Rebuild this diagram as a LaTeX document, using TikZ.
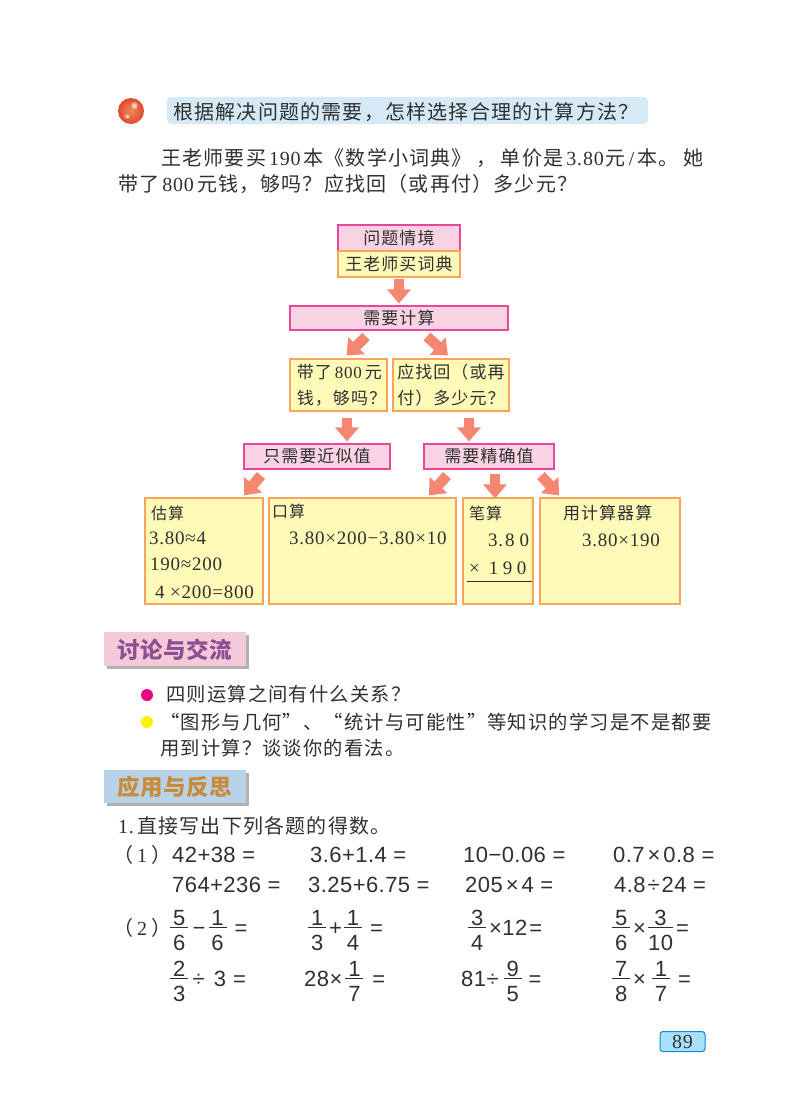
\documentclass[tikz,border=0pt]{standalone}
\usepackage{fontspec}
\setmainfont[LetterSpace=4]{Liberation Serif}
\setsansfont[LetterSpace=2]{Liberation Sans}
\newfontfamily\cjk[LetterSpace=6]{Noto Sans CJK SC}
\newfontfamily\cjkh[LetterSpace=2]{Noto Sans CJK SC}
\usetikzlibrary{arrows.meta,calc}
\newcommand{\zh}[1]{{\cjk #1}}
\newcommand{\fsz}[1]{\fontsize{#1}{#1}\selectfont}
\newcommand{\fr}[3][18pt]{\hbox to #1{\rlap{\hbox to #1{\hss\raisebox{10pt}{#2}\hss}}\rlap{\hbox to #1{\hss\raisebox{-15pt}{#3}\hss}}\rlap{\raisebox{7pt}{\rule{#1}{.7pt}}}\hss}}
\definecolor{pinkfill}{HTML}{F9D3E4}
\definecolor{pinkline}{HTML}{E8479A}
\definecolor{yelfill}{HTML}{FFFAB8}
\definecolor{orgline}{HTML}{F9A45C}
\definecolor{arrowc}{HTML}{F58670}
\definecolor{ink}{HTML}{303030}
\definecolor{ballA}{HTML}{F08A60}
\definecolor{ballB}{HTML}{E0482C}
\definecolor{headP}{HTML}{8D4F90}
\definecolor{headO}{HTML}{C98A3A}
\definecolor{boxP}{HTML}{F4CADB}
\definecolor{boxB}{HTML}{B8D2EA}
\definecolor{pill}{HTML}{D5EAF6}
\tikzset{
  tx/.style={inner sep=0pt,anchor=base west,text=ink,font=\fsz{20}},
  txs/.style={tx,font=\fsz{19}},
  lab/.style={tx,font=\fsz{16}},
  ms/.style={inner sep=0pt,anchor=base west,text=ink,font=\sffamily\fsz{22}},
  pbox/.style={draw=pinkline,fill=pinkfill,line width=1.1pt,inner sep=0pt,text=ink,font=\fsz{17}},
  ybox/.style={draw=orgline,fill=yelfill,line width=1.2pt,inner sep=0pt,text=ink,font=\fsz{17}},
  fat/.style={draw=arrowc,line width=10.5pt,-{Triangle[width=23pt,length=14pt,fill=arrowc]}},
  head/.style={inner sep=0pt,font=\bfseries\fsz{22.5}},
}
\begin{document}
\begin{tikzpicture}[x=1pt,y=-1pt]
\useasboundingbox (0,0) rectangle (800,1114);
% title
\shade[inner color=ballA,outer color=ballB] (131,111) circle (13);
\shade[inner color=white,outer color=ballA!60!ballB] (134,105.5) circle (4);
\shade[inner color=white!70!ballA,outer color=ballA!60!ballB] (127,116) circle (3.2);
\fill[pill,rounded corners=4pt] (167,97) rectangle (648,124);
\node[tx] (title) at (173,119) {\zh{根据解决问题的需要，怎样选择合理的计算方法？}};
\node[tx] (p1) at (161,165) {\zh{王老师要买}\kern3pt 190\kern3pt\zh{本《数学小词典》}\kern5pt\zh{，}\kern4pt\zh{单价是}\kern3pt 3.80\kern2pt\zh{元}\kern3pt/\kern3pt\zh{本。}\kern5pt\zh{她}};
\node[tx] (p2) at (118,191) {\zh{带了}\kern3pt 800\kern3pt\zh{元钱，够吗？应找回（或再付）多少元？}};
% flow
\node[pbox,minimum width=122pt,minimum height=26pt] (qj) at (399,238) {\zh{问题情境}};
\node[ybox,minimum width=122pt,minimum height=26pt] (wl) at (399,264) {\zh{王老师买词典}};
\node[pbox,minimum width=218pt,minimum height=24pt] (xy) at (399,318) {\zh{需要计算}};
\node[ybox,minimum width=97pt,minimum height=52pt,align=left] (dl) at (338.5,385) {\kern6pt\zh{带了}\kern3pt 800\kern3pt\zh{元}\\[9pt]\kern6pt\zh{钱，够吗？}};
\node[ybox,minimum width=116pt,minimum height=52pt,align=left] (yz) at (451,385) {\zh{应找回（或再}\\[9pt]\zh{付）多少元？}};
\node[pbox,minimum width=146pt,minimum height=25pt] (zx) at (317,456.5) {\zh{只需要近似值}};
\node[pbox,minimum width=130pt,minimum height=25pt] (jq) at (489,456.5) {\zh{需要精确值}};
\node[ybox,minimum width=118pt,minimum height=106pt] (gs) at (204,551) {};
\node[ybox,minimum width=187pt,minimum height=106pt] (ks) at (362.5,551) {};
\node[ybox,minimum width=70pt,minimum height=106pt] (bs) at (498,551) {};
\node[ybox,minimum width=140pt,minimum height=106pt] (js) at (610,551) {};
% arrows
\draw[fat] ([yshift=-1pt]wl.south) -- ([yshift=2pt]xy.north);
\draw[fat] ([xshift=-33pt,yshift=-6pt]xy.south) -- ([xshift=8pt,yshift=3pt]dl.north);
\draw[fat] ([xshift=28pt,yshift=-6pt]xy.south) -- ([xshift=-3pt,yshift=3pt]yz.north);
\draw[fat] ([xshift=8.5pt,yshift=-6pt]dl.south) -- ([xshift=30pt,yshift=2pt]zx.north);
\draw[fat] ([xshift=18pt,yshift=-6pt]yz.south) -- ([xshift=-20pt,yshift=2pt]jq.north);
\draw[fat] ([xshift=-56pt,yshift=-6pt]zx.south) -- ([xshift=40pt,yshift=2pt]gs.north);
\draw[fat] ([xshift=-42pt,yshift=-6pt]jq.south) -- ([xshift=66.5pt,yshift=2pt]ks.north);
\draw[fat] ([xshift=6pt,yshift=-4pt]jq.south) -- ([xshift=-3pt,yshift=-1pt]bs.north);
\draw[fat] ([xshift=52pt,yshift=-6pt]jq.south) -- ([xshift=-51pt,yshift=2pt]js.north);
% box texts
\node[lab] (t1) at (151,519) {\zh{估算}};
\node[txs] (t2) at (149,544) {3.80≈4};
\node[txs] (t3) at (150,570) {190≈200};
\node[txs] (t4) at (155,598) {4 ×200=800};
\node[lab] (t5) at (272,517) {\zh{口算}};
\node[txs] (t6) at (289,544) {3.80×200−3.80×10};
\node[lab] (t7) at (469,519) {\zh{笔算}};
\node[txs] (t8) at (488,546) {3.\kern2pt 8\kern5pt 0};
\node[txs] (t9) at (469,574) {×\kern9pt 1\kern4.5pt 9\kern4.5pt 0};
\draw[ink,line width=.9pt] (467,581) -- (532,581);
\node[tx,font=\fsz{17}] (t10) at (563,519) {\zh{用计算器算}};
\node[txs] (t11) at (582,546) {3.80×190};
% discussion
\fill[gray!60] (107,635) rectangle (249,669);
\fill[boxP] (104,632) rectangle (246,666);
\node[head,text=headP] (h1) at (175,649.5) {\zh{\cjkh 讨论与交流}};
\fill[magenta!90!red] (147,695) circle (6);
\fill[yellow] (147,722) circle (6);
\node[tx,font=\fsz{19.3}] (d1) at (166,701) {\zh{四则运算之间有什么关系？}};
\node[tx,font=\fsz{19.3}] (d2) at (160,729) {\zh{“图形与几何”、“统计与可能性”等知识的学习是不是都要}};
\node[tx,font=\fsz{19.3}] (d3) at (160,755) {\zh{用到计算？谈谈你的看法。}};
\fill[gray!60] (107,773) rectangle (249,806);
\fill[boxB] (104,770) rectangle (246,803);
\node[head,text=headO] (h2) at (175,787) {\zh{\cjkh 应用与反思}};
\node[tx] (e0) at (118,833) {1.\,\zh{直接写出下列各题的得数。}};
% arithmetic
\node[tx] (l1) at (113,862) {\zh{（}\kern4pt 1\kern4pt\zh{）}};
\node[ms] (a1) at (172,862) {42+38 =};
\node[ms] (a2) at (310,862) {3.6+1.4 =};
\node[ms] (a3) at (463,862) {10−0.06 =};
\node[ms] (a4) at (613,862) {0.7\kern3pt×\kern3pt 0.8 =};
\node[ms] (b1) at (172,892) {764+236 =};
\node[ms] (b2) at (308,892) {3.25+6.75 =};
\node[ms] (b3) at (465,892) {205\kern3pt×\kern3pt 4 =};
\node[ms] (b4) at (614,892) {4.8\kern2pt÷\kern2pt 24 =};
\node[tx] (l2) at (113,935) {\zh{（}\kern4pt 2\kern4pt\zh{）}};
\node[ms] (c1) at (170,935) {\fr{5}{6}\kern4.5pt−\kern3pt\fr{1}{6}\kern8pt=};
\node[ms] (c2) at (308,935) {\fr{1}{3}\kern3pt+\kern2pt\fr{1}{4}\kern8pt=};
\node[ms] (c3) at (468,935) {\fr{3}{4}\kern3pt×12\kern2pt=};
\node[ms] (c4) at (612,935) {\fr{5}{6}\kern3pt×\kern2pt\fr[25pt]{3}{10}\kern3pt=};
\node[ms] (f1) at (170,986) {\fr{2}{3}\kern4.5pt÷\kern9pt 3\kern7pt=};
\node[ms] (f2) at (304,986) {28×\kern3pt\fr{1}{7}\kern9pt=};
\node[ms] (f3) at (461,986) {81÷\kern5pt\fr{9}{5}\kern7pt=};
\node[ms] (f4) at (612,986) {\fr{7}{8}\kern3pt×\kern6pt\fr{1}{7}\kern8pt=};
% page no
\node[draw=cyan!70!blue,fill=cyan!35!white,rounded corners=3pt,line width=1pt,minimum width=45pt,minimum height=20pt,inner sep=0pt,text=ink,font=\fsz{20}] (pg) at (682.5,1041.5) {89};
\end{tikzpicture}
\end{document}
